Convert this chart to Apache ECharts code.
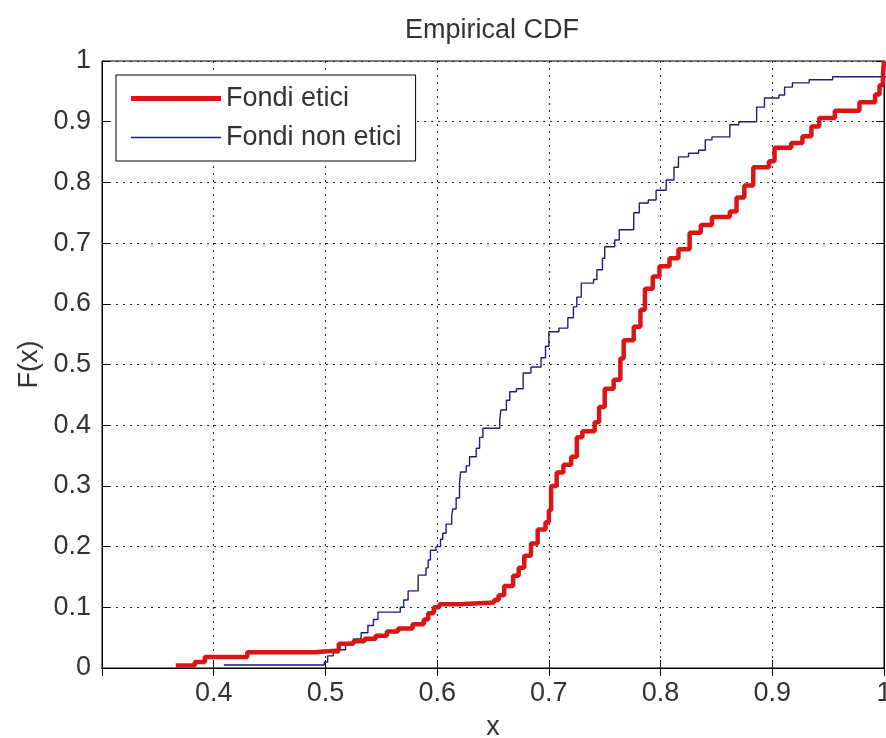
<!DOCTYPE html>
<html>
<head>
<meta charset="utf-8">
<title>Empirical CDF</title>
<script src="https://cdn.jsdelivr.net/npm/echarts@6/dist/echarts.min.js"></script>
<style>
  html, body { margin: 0; padding: 0; background: #fff; }
  #main { width: 886px; height: 738px; }
</style>
</head>
<body>
<div id="main"></div>
<script>
// ecdf a gradini: [x, F(x)]
var fondiEtici = [
  [0.366, 0.004], [0.383, 0.010], [0.392, 0.018], [0.430, 0.026], [0.490, 0.029],
  [0.512, 0.040], [0.525, 0.044], [0.535, 0.048], [0.545, 0.053], [0.555, 0.060],
  [0.565, 0.065], [0.578, 0.072], [0.588, 0.080], [0.592, 0.090], [0.597, 0.100],
  [0.602, 0.105], [0.620, 0.108], [0.651, 0.112], [0.655, 0.120], [0.660, 0.135],
  [0.668, 0.152], [0.673, 0.165], [0.678, 0.185], [0.684, 0.205], [0.690, 0.228],
  [0.697, 0.240], [0.700, 0.260], [0.702, 0.300], [0.707, 0.322], [0.713, 0.335],
  [0.720, 0.348], [0.725, 0.380], [0.730, 0.390], [0.741, 0.405], [0.745, 0.430],
  [0.750, 0.460], [0.758, 0.475], [0.764, 0.510], [0.767, 0.540], [0.776, 0.562],
  [0.782, 0.590], [0.786, 0.625], [0.793, 0.645], [0.799, 0.662], [0.808, 0.675],
  [0.816, 0.690], [0.826, 0.717], [0.836, 0.730], [0.846, 0.743], [0.862, 0.752],
  [0.868, 0.775], [0.875, 0.795], [0.883, 0.825], [0.897, 0.835], [0.902, 0.857],
  [0.917, 0.865], [0.927, 0.876], [0.935, 0.892], [0.942, 0.906], [0.956, 0.918],
  [0.978, 0.932], [0.992, 0.945], [0.996, 0.960], [0.999, 0.975], [1.000, 1.000]
];
var fondiNonEtici = [
  [0.409, 0.005], [0.499, 0.010], [0.502, 0.020], [0.507, 0.025], [0.512, 0.030],
  [0.518, 0.040], [0.525, 0.048], [0.532, 0.058], [0.538, 0.070], [0.543, 0.080],
  [0.547, 0.092], [0.567, 0.100], [0.570, 0.112], [0.574, 0.127], [0.583, 0.153],
  [0.590, 0.165], [0.592, 0.178], [0.594, 0.194], [0.599, 0.200], [0.603, 0.212],
  [0.605, 0.222], [0.608, 0.237], [0.613, 0.250], [0.614, 0.262], [0.617, 0.280],
  [0.620, 0.304], [0.621, 0.323], [0.626, 0.333], [0.629, 0.348], [0.635, 0.362],
  [0.638, 0.380], [0.641, 0.395], [0.656, 0.408], [0.657, 0.425], [0.662, 0.441],
  [0.665, 0.455], [0.671, 0.460], [0.677, 0.486], [0.684, 0.496], [0.693, 0.511],
  [0.697, 0.530], [0.700, 0.554], [0.709, 0.560], [0.717, 0.577], [0.722, 0.595],
  [0.725, 0.611], [0.729, 0.634], [0.740, 0.640], [0.743, 0.656], [0.748, 0.675],
  [0.750, 0.694], [0.759, 0.705], [0.763, 0.722], [0.776, 0.750], [0.781, 0.766],
  [0.789, 0.771], [0.796, 0.787], [0.805, 0.804], [0.812, 0.825], [0.816, 0.842],
  [0.825, 0.848], [0.834, 0.853], [0.840, 0.870], [0.846, 0.875], [0.862, 0.895],
  [0.870, 0.900], [0.886, 0.924], [0.893, 0.939], [0.906, 0.944], [0.911, 0.957],
  [0.918, 0.964], [0.933, 0.969], [0.954, 0.974], [1.050, 1.000]
];
var nomiSerie = ['Fondi etici', 'Fondi non etici'];
var coloriSerie = ['#dc1414', '#1e1e7a'];

var fontTesto = '"Liberation Sans", Arial, sans-serif';
var coloreTesto = '#333';

var myChart = echarts.init(document.getElementById('main'));

function etichettaX(v){
	if(Math.abs(v - 0.3) < 1e-9){//0.3 non compare
		return '';
	}
	return String(+v.toFixed(1));
}
function etichettaY(v){
	return String(+v.toFixed(1));
}

var option = {
	backgroundColor: '#fff',
	animation: false,
	title: {
		text: 'Empirical CDF',
		left: 492,
		top: 17,
		padding: 0,
		textAlign: 'center',
		textStyle: { fontFamily: fontTesto, fontSize: 27, fontWeight: 'normal', color: coloreTesto }
	},
	legend: {
		orient: 'vertical',
		left: 116,
		top: 75,
		padding: [10, 14, 10, 15],
		itemGap: 12,
		itemWidth: 90,
		itemHeight: 10,
		borderColor: '#000',
		borderWidth: 1,
		backgroundColor: '#fff',
		itemStyle: { borderWidth: 0 },
		textStyle: { fontFamily: fontTesto, fontSize: 27, color: coloreTesto, padding: [0, 0, 0, 0] },
		data: [
			{ name: nomiSerie[0], icon: 'path://M0,0H90V5H0Z' },
			{ name: nomiSerie[1], icon: 'path://M0,0H90V1.4H0Z' }
		]
	},
	grid: {
		left: 102, right: 2, top: 61, bottom: 70,
		outerBoundsMode: 'none',
		show: true, borderColor: '#000', borderWidth: 1
	},
	xAxis: [
		{
			type: 'value', min: 0.3, max: 1, interval: 0.1,
			name: 'x', nameLocation: 'middle', nameGap: 46,
			nameTextStyle: { fontFamily: fontTesto, fontSize: 27, color: coloreTesto },
			axisLine: { show: true, lineStyle: { color: '#000', width: 1 } },
			axisTick: { show: true, inside: true, length: 8, lineStyle: { color: '#000' } },
			axisLabel: { formatter: etichettaX, margin: 12, fontFamily: fontTesto, fontSize: 27, color: coloreTesto },
			splitLine: { show: true, lineStyle: { color: '#222', type: [2, 5], width: 1 } }
		},
		{
			type: 'value', min: 0.3, max: 1, interval: 0.1, position: 'top',
			axisLine: { show: true, lineStyle: { color: '#000' } },
			axisTick: { show: true, inside: true, length: 8, lineStyle: { color: '#000' } },
			axisLabel: { show: false },
			splitLine: { show: false }
		}
	],
	yAxis: [
		{
			type: 'value', min: 0, max: 1, interval: 0.1,
			name: 'F(x)', nameLocation: 'middle', nameGap: 58, nameRotate: 90,
			nameTextStyle: { fontFamily: fontTesto, fontSize: 27, color: coloreTesto },
			axisLine: { show: true, lineStyle: { color: '#000', width: 1 } },
			axisTick: { show: true, inside: true, length: 8, lineStyle: { color: '#000' } },
			axisLabel: { formatter: etichettaY, margin: 11, fontFamily: fontTesto, fontSize: 27, color: coloreTesto },
			splitLine: { show: true, lineStyle: { color: '#222', type: [2, 5], width: 1 } }
		},
		{
			type: 'value', min: 0, max: 1, interval: 0.1, position: 'right',
			axisLine: { show: true, lineStyle: { color: '#000' } },
			axisTick: { show: true, inside: true, length: 8, lineStyle: { color: '#000' } },
			axisLabel: { show: false },
			splitLine: { show: false }
		}
	],
	series: [
		{
			name: nomiSerie[0], type: 'line', step: 'end', showSymbol: false, symbol: 'none',
			color: coloriSerie[0], clip: true, z: 3,
			lineStyle: { color: coloriSerie[0], width: 4.5 },
			data: fondiEtici
		},
		{
			name: nomiSerie[1], type: 'line', step: 'end', showSymbol: false, symbol: 'none',
			color: coloriSerie[1], clip: true, z: 2,
			lineStyle: { color: coloriSerie[1], width: 1.4 },
			data: fondiNonEtici
		}
	]
};
myChart.setOption(option);
</script>
</body>
</html>
